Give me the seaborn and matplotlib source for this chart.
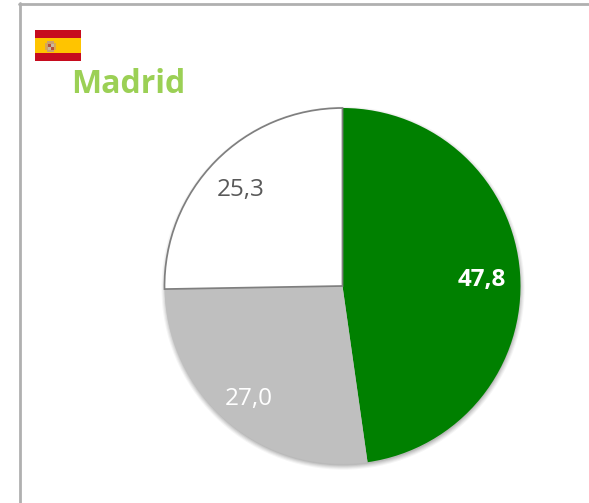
import matplotlib
matplotlib.use("Agg")
import matplotlib.pyplot as plt
import seaborn as sns
from matplotlib.patches import Rectangle, Circle
from matplotlib.lines import Line2D

categories = ["A", "B", "C"]
values = [47.8, 27.0, 25.3]
value_labels = ["47,8", "27,0", "25,3"]
title = "Madrid"
slice_colors = ["#008000", "#BFBFBF", "#FFFFFF"]
label_colors = ["#FFFFFF", "#FFFFFF", "#595959"]
label_weights = ["bold", "normal", "normal"]

W, H = 589, 503
sns.set_theme(style="white")
plt.rcParams["font.family"] = ["Open Sans", "DejaVu Sans"]
fig = plt.figure(figsize=(W / 100, H / 100), dpi=100, facecolor="white")

def fx(x): return x / W
def fy(y): return 1 - y / H

# frame (top and left only)
fig.add_artist(Line2D([fx(20), fx(20)], [fy(3), fy(503)], color="#B0B0B0", lw=2.0))
fig.add_artist(Line2D([fx(19), fx(589)], [fy(3.5), fy(3.5)], color="#B0B0B0", lw=2.0))

# flag
for y0, h, c in [(30, 8, "#C60B1E"), (38, 15, "#FFC400"), (53, 8, "#C60B1E")]:
    fig.add_artist(Rectangle((fx(35), fy(y0 + h)), 46 / W, h / H, transform=fig.transFigure,
                             facecolor=c, edgecolor="none"))
for x0, y0, w, h, c in [(45, 43, 11, 7, "#D8A850"), (47, 41, 7, 11, "#C9A070"),
                        (48, 44, 3, 3, "#B5503A"), (51, 44, 3, 3, "#C8B8A0"),
                        (48, 47, 3, 3, "#C8B8A0"), (51, 47, 3, 3, "#B5503A")]:
    fig.add_artist(Rectangle((fx(x0), fy(y0 + h)), w / W, h / H, transform=fig.transFigure,
                             facecolor=c, edgecolor="none"))

fig.text(fx(71.5), fy(93), title, color="#9BD055", fontsize=23, fontweight="bold",
         ha="left", va="baseline")

# pie axes: centre (342.5, 286), radius 178 px
R = 178
cx, cy = 342.5, 286
pad = 8
ax = fig.add_axes([fx(cx - R - pad), fy(cy + R + pad), (2 * R + 2 * pad) / W, (2 * R + 2 * pad) / H])
ax.axis("off")

# soft shadow
for i, a in enumerate([0.04, 0.05, 0.06, 0.07, 0.08]):
    ax.add_patch(Circle((0.003, -0.012), 1 + 0.02 - i * 0.006, facecolor="black",
                        edgecolor="none", alpha=a, zorder=0))

wedges, _ = ax.pie(values, colors=slice_colors, startangle=90, counterclock=False,
                   radius=1, center=(0, 0), frame=False,
                   wedgeprops={"edgecolor": "none", "linewidth": 0})
ax.set_xlim(-(R + pad) / R, (R + pad) / R)
ax.set_ylim(-(R + pad) / R, (R + pad) / R)
ax.set_aspect("equal")
wedges[2].set_edgecolor("#7F7F7F")
wedges[2].set_linewidth(1.25)
wedges[2].set_zorder(3)

positions = [(481.5, 280), (248.5, 399), (241, 190)]
for (px, py), lab, col, wt in zip(positions, value_labels, label_colors, label_weights):
    fig.text(fx(px), fy(py), lab, color=col, fontsize=17.5, fontweight=wt,
             ha="center", va="center")

fig.savefig("out.png", dpi=100, facecolor="white")
